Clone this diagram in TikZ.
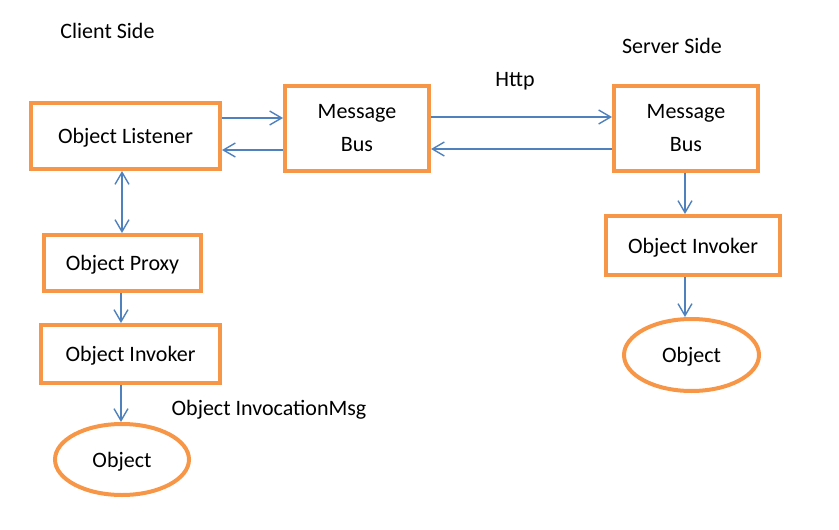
\documentclass[tikz,border=0pt]{standalone}
\usepackage{fontspec}
\setmainfont{Carlito}
\usepackage{tikz}
\usetikzlibrary{arrows.meta,positioning,shapes.geometric}
\definecolor{boxorange}{RGB}{247,150,70}
\definecolor{arrowblue}{RGB}{79,129,189}

\begin{document}
\begin{tikzpicture}[
  x=1pt, y=-1pt,
  font=\fontsize{22}{33}\selectfont,
  box/.style={draw=boxorange, line width=4pt, align=center, inner sep=0pt, text depth=0pt},
  blob/.style={ellipse, draw=boxorange, line width=4pt, inner sep=0pt, text depth=0pt},
  arr/.style={draw=arrowblue, line width=1.4pt, -{Straight Barb[length=12pt,width=14pt]}},
  biarr/.style={arr, {Straight Barb[length=12pt,width=14pt]}-{Straight Barb[length=12pt,width=14pt]}}
]
\useasboundingbox (0,0) rectangle (839,530);
% client side
\node[box, minimum width=189pt, minimum height=66pt] (lis) at (125.5,136) {Object Listener};
\node[box, minimum width=144pt, minimum height=85pt] (busL) at (357,128) {Message\\Bus};
\node[box, minimum width=157pt, minimum height=56pt] (prox) at (122.5,263) {Object Proxy};
\node[box, minimum width=179pt, minimum height=58pt] (invL) at (130.5,354) {Object Invoker};
\node[blob, minimum width=134pt, minimum height=71pt] (objL) at (122,459.5) {Object};
% server side
\node[box, minimum width=144pt, minimum height=85pt] (busR) at (686,128) {Message\\Bus};
\node[box, minimum width=174pt, minimum height=59pt] (invR) at (693,245.5) {Object Invoker};
\node[blob, minimum width=135pt, minimum height=72pt] (objR) at (691.5,355) {Object};
% labels
\node (client) at (107.5,31) {Client Side};
\node (server) at (672,46) {Server Side};
\node (http) at (515,81) {Http};
\node (msg) at (269,410) {Object InvocationMsg};

\draw[arr] ([yshift=18pt]lis.east) -- ([yshift=18pt]lis.east -| busL.west);
\draw[arr] ([yshift=-14pt]lis.east -| busL.west) -- ([yshift=-14pt]lis.east);
\draw[arr] ([yshift=11pt]busL.east) -- ([yshift=11pt]busR.west);
\draw[arr] ([yshift=-21pt]busR.west) -- ([yshift=-21pt]busL.east);
\draw[biarr] (prox.north -| 122,0) -- (lis.south -| 122,0);
\draw[arr] (prox.south -| 121,0) -- (invL.north -| 121,0);
\draw[arr] (invL.south -| 121,0) -- (objL.north -| 121,0);
\draw[arr] (busR.south -| 685,0) -- (invR.north -| 685,0);
\draw[arr] (invR.south -| 685,0) -- (objR.north -| 685,0);
\end{tikzpicture}
\end{document}
